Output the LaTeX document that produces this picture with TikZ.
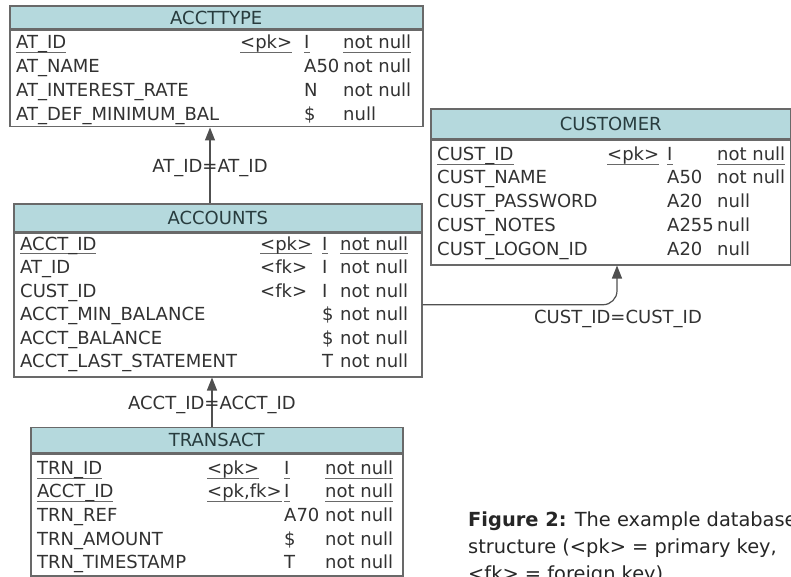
\documentclass[tikz,border=0pt]{standalone}
\usepackage{xcolor}
\usepackage{fontspec}
\usepackage{tikz}
\usetikzlibrary{calc}
\usetikzlibrary{arrows.meta}
\setmainfont{DejaVu Sans}

\definecolor{headblue}{RGB}{181,217,221}
\definecolor{bordergray}{RGB}{105,105,105}
\definecolor{linegray}{RGB}{80,80,80}
\definecolor{bodytext}{RGB}{50,50,50}
\definecolor{headtext}{RGB}{40,60,62}

\newcommand{\tabfont}{\fontsize{18}{22}\selectfont}
\newcommand{\capfont}{\fontsize{19.4}{27}\selectfont}

% underline that swallows the underscores
\newcommand{\keyline}[1]
	{%
	\setbox0=\hbox{#1}\rlap{\color{bordergray}\rule[-4.3pt]{\wd0}{1.1pt}}\box0%
	}

\tikzset{
  entbody/.style={draw=bordergray, line width=1.5pt, fill=white, inner sep=0pt},
  enthead/.style={draw=bordergray, line width=1.5pt, fill=headblue, inner sep=0pt,
    text=headtext, font=\tabfont},
  field/.style={inner sep=0pt, text=bodytext, font=\tabfont},
  link/.style={draw=linegray, line width=1.2pt, -{Triangle[width=10pt,length=13pt]}},
  linklabel/.style={inner sep=0pt, text=bodytext, font=\tabfont},
  caption/.style={inner sep=0pt, anchor=base west, text=black!85, font=\capfont}
}

% name, left, top, right, header bottom, bottom, title
\newcommand{\entity}[7]
	{
	\node[entbody, anchor=north west, minimum width={#4pt-#2pt},
	  minimum height={#6pt-#5pt}] (#1) at (#2,#5) {};
	\node[enthead, anchor=south west, minimum width={#4pt-#2pt},
	  minimum height={#5pt-#3pt}] (#1head) at (#2,#5) {#7};
	}

% id, baseline, field, key, type, null
\newcommand{\fieldrow}[6]
	{
	\node[field, anchor=base west] (#1name) at (\colname,#2) {#3};
	\node[field, anchor=base west] (#1key) at (\colkey,#2) {#4};
	\node[field, anchor=base west] (#1type) at (\coltype,#2) {#5};
	\node[field, anchor=base west] (#1null) at (\colnull,#2) {#6};
	}

\begin{document}
\begin{tikzpicture}[x=1pt,y=-1pt]
\useasboundingbox (0,0) rectangle (791,577);
\clip (0,0) rectangle (791,577);

       \entity{accttype}{9}{7}{422}{30}{126}{ACCTTYPE}
       \def\colname{16}\def\colkey{240}\def\coltype{304}\def\colnull{343}
       \fieldrow{at1}{49}{\keyline{AT\_ID}}{\keyline{<pk>}}{\keyline{I}}{\keyline{not null}}
       \fieldrow{at2}{73}{AT\_NAME}{}{A50}{not null}
       \fieldrow{at3}{97}{AT\_INTEREST\_RATE}{}{N}{not null}
       \fieldrow{at4}{121}{AT\_DEF\_MINIMUM\_BAL}{}{\$}{null}

       \entity{customer}{430}{110}{790}{140}{264}{CUSTOMER}
       \def\colname{437}\def\colkey{607}\def\coltype{667}\def\colnull{717}
       \fieldrow{cu1}{160.5}{\keyline{CUST\_ID}}{\keyline{<pk>}}{\keyline{I}}{\keyline{not null}}
       \fieldrow{cu2}{184}{CUST\_NAME}{}{A50}{not null}
       \fieldrow{cu3}{207.5}{CUST\_PASSWORD}{}{A20}{null}
       \fieldrow{cu4}{231}{CUST\_NOTES}{}{A255}{null}
       \fieldrow{cu5}{255}{CUST\_LOGON\_ID}{}{A20}{null}

       \entity{accounts}{13}{205}{421}{232}{376}{ACCOUNTS}
       \def\colname{20}\def\colkey{260}\def\coltype{322}\def\colnull{340}
       \fieldrow{ac1}{250}{\keyline{ACCT\_ID}}{\keyline{<pk>}}{\keyline{I}}{\keyline{not null}}
       \fieldrow{ac2}{273.5}{AT\_ID}{<fk>}{I}{not null}
       \fieldrow{ac3}{297}{CUST\_ID}{<fk>}{I}{not null}
       \fieldrow{ac4}{320.5}{ACCT\_MIN\_BALANCE}{}{\$}{not null}
       \fieldrow{ac5}{344}{ACCT\_BALANCE}{}{\$}{not null}
       \fieldrow{ac6}{367.5}{ACCT\_LAST\_STATEMENT}{}{T}{not null}

       \entity{transact}{30}{428}{402}{453}{575}{TRANSACT}
       \def\colname{37}\def\colkey{207}\def\coltype{284}\def\colnull{325}
       \fieldrow{tr1}{474.5}{\keyline{TRN\_ID}}{\keyline{<pk>}}{\keyline{I}}{\keyline{not null}}
       \fieldrow{tr2}{497.5}{\keyline{ACCT\_ID}}{\keyline{<pk,fk>}}{\keyline{I}}{\keyline{not null}}
       \fieldrow{tr3}{521}{TRN\_REF}{}{A70}{not null}
       \fieldrow{tr4}{545}{TRN\_AMOUNT}{}{\$}{not null}
       \fieldrow{tr5}{568}{TRN\_TIMESTAMP}{}{T}{not null}

       % relationships
       \coordinate (atx) at (210,0);
       \draw[link] (accountshead.north -| atx) -- (accttype.south -| atx);
       \node[linklabel] (atlabel) at (210,168) {AT\_ID=AT\_ID};

       \coordinate (acctx) at (212,0);
       \draw[link] (transacthead.north -| acctx) -- (accounts.south -| acctx);
       \node[linklabel] (acctlabel) at (212,405) {ACCT\_ID=ACCT\_ID};

       \coordinate (custx) at (617,0);
       \draw[link, rounded corners=14pt] (accounts.east) -- (accounts.east -| custx) -- (customer.south -| custx);
       \node[linklabel] (custlabel) at (618,319) {CUST\_ID=CUST\_ID};

       \node[caption] (cap1) at (468,526) {\textbf{Figure 2:} The example database};
       \node[caption] (cap2) at (468,553) {structure (<pk> = primary key,};
       \node[caption] (cap3) at (468,580) {<fk> = foreign key)};
\end{tikzpicture}
\end{document}
